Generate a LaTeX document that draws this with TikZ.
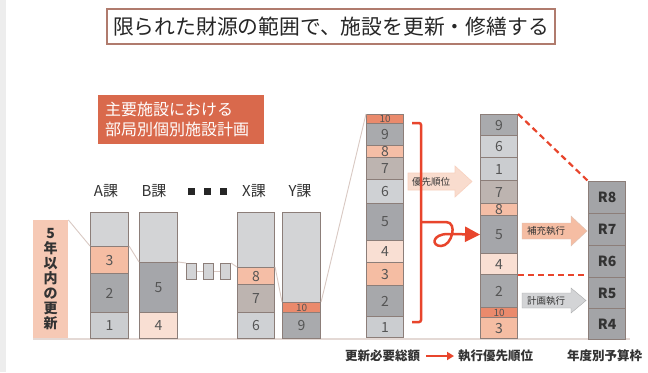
\documentclass[tikz,border=0pt]{standalone}
\usepackage{fontspec}
\setmainfont{Noto Sans CJK JP}
\usetikzlibrary{arrows.meta}
\definecolor{emptyc}{HTML}{D3D4D6}
\definecolor{cA}{HTML}{CBCDD0}
\definecolor{cB}{HTML}{A7A8AB}
\definecolor{cC}{HTML}{F5BDA3}
\definecolor{cD}{HTML}{F9DFD3}
\definecolor{cE}{HTML}{A5A6AA}
\definecolor{cF}{HTML}{CFD1D4}
\definecolor{cG}{HTML}{BDB4B0}
\definecolor{cH}{HTML}{F5BEA6}
\definecolor{cI}{HTML}{A9AAAD}
\definecolor{cJ}{HTML}{EA8A6C}
\definecolor{rcol}{HTML}{A3A4A7}
\definecolor{segborder}{HTML}{8C7E79}
\definecolor{thinc}{HTML}{D9C9C3}
\definecolor{redc}{HTML}{E8452C}
\definecolor{orng}{HTML}{D9694C}
\definecolor{lblpink}{HTML}{F6C9B5}
\definecolor{titleb}{HTML}{B07B6D}
\definecolor{numtxt}{HTML}{555555}
\definecolor{dtxt}{HTML}{333333}
\newcommand\segbox[7]{\node[segst,fill=#6,minimum width=#5bp,minimum height=#4bp,anchor=north west] (#1) at (#2,#3) {#7};}
\begin{document}
\begin{tikzpicture}[x=1bp,y=-1bp,
  segst/.style={draw=segborder,line width=1.1bp,inner sep=0pt,text=numtxt,font=\fontsize{14bp}{14bp}\selectfont},
  thinline/.style={draw=thinc,line width=0.9bp},
  reddash/.style={draw=redc,line width=2.2bp,dash pattern=on 6bp off 4bp},
  hdr/.style={font=\fontsize{15bp}{15bp}\selectfont,text=dtxt,inner sep=0pt},
  leg/.style={font=\bfseries\fontsize{12.5bp}{13bp}\selectfont,text=dtxt,inner sep=0pt,anchor=west},
  arrlbl/.style={font=\fontsize{9.5bp}{10bp}\selectfont,text=dtxt,inner sep=0pt}]
\useasboundingbox (0,0) rectangle (648,372);
\fill[white] (0,0) rectangle (648,372);
\fill[black!7] (0,0) rectangle (6,372);
% baseline
\draw[draw=thinc!70,line width=2bp] (33,339) -- (630,339);
% title
\node[draw=titleb,line width=2.5bp,minimum width=448bp,minimum height=35bp,inner sep=0pt,font=\fontsize{20.8bp}{22bp}\selectfont,text=black!85] (title) at (331,26.5) {限られた財源の範囲で、施設を更新・修繕する};
% orange box
\node[fill=orng,minimum width=166bp,minimum height=49bp,anchor=north west,inner sep=0pt] (obox) at (98,95) {};
\node[anchor=west,text=white,align=left,inner sep=0pt,font=\fontsize{16bp}{20bp}\selectfont] (otext) at (105,119.5) {主要施設における\\部局別個別施設計画};
% vertical label
\node[fill=lblpink,minimum width=35bp,minimum height=118bp,anchor=north west,inner sep=0pt,align=center,text=dtxt,font=\bfseries\fontsize{14bp}{15bp}\selectfont] (lbl) at (33,220) {5\\年\\以\\内\\の\\更\\新};
% headers
\node[hdr] (hA) at (106,191) {A課};
\node[hdr] (hB) at (154,191) {B課};
\node[hdr] (hX) at (254,191) {X課};
\node[hdr] (hY) at (300,191) {Y課};
\node[fill=black!85,minimum size=7bp,inner sep=0pt] (q1) at (191,191) {};
\node[fill=black!85,minimum size=7bp,inner sep=0pt] (q2) at (207,191) {};
\node[fill=black!85,minimum size=7bp,inner sep=0pt] (q3) at (223,191) {};
% A column
\segbox{aT}{90}{212}{34}{38}{emptyc}{}
\segbox{a3}{90}{246}{27}{38}{cC}{3}
\segbox{a2}{90}{273}{39}{38}{cB}{2}
\segbox{a1}{90}{312}{26}{38}{cA}{1}
% B column
\segbox{bT}{139}{212}{50}{38}{emptyc}{}
\segbox{b5}{139}{262}{50}{38}{cE}{5}
\segbox{b4}{139}{312}{26}{38}{cD}{4}
% small boxes
\segbox{d1}{186}{263}{16}{10}{emptyc}{}
\segbox{d2}{203}{263}{16}{10}{emptyc}{}
\segbox{d3}{220}{263}{16}{10}{emptyc}{}
% X column
\segbox{xT}{237}{212}{55}{37}{emptyc}{}
\segbox{x8}{237}{267}{17}{37}{cH}{8}
\segbox{x7}{237}{284}{28}{37}{cG}{7}
\segbox{x6}{237}{312}{26}{37}{cF}{6}
% Y column
\segbox{yT}{282}{212}{90}{38}{emptyc}{}
\segbox{y10}{282}{302}{10}{38}{cJ}{\fontsize{10bp}{10bp}\selectfont 10}
\segbox{y9}{282}{312}{26}{38}{cI}{9}
% total column
\segbox{t10}{366}{114}{9}{37}{cJ}{\fontsize{10bp}{10bp}\selectfont 10}
\segbox{t9}{366}{123}{22}{37}{cI}{9}
\segbox{t8}{366}{145}{12}{37}{cH}{8}
\segbox{t7}{366}{157}{22}{37}{cG}{7}
\segbox{t6}{366}{179}{24}{37}{cF}{6}
\segbox{t5}{366}{203}{37}{37}{cE}{5}
\segbox{t4}{366}{240}{22}{37}{cD}{4}
\segbox{t3}{366}{262}{23}{37}{cC}{3}
\segbox{t2}{366}{285}{31}{37}{cB}{2}
\segbox{t1}{366}{316}{21}{37}{cA}{1}
% sorted column
\segbox{s9}{480}{114}{21}{37}{cI}{9}
\segbox{s6}{480}{135}{22}{37}{cF}{6}
\segbox{s1}{480}{157}{23}{37}{cA}{1}
\segbox{s7}{480}{180}{23}{37}{cG}{7}
\segbox{s8}{480}{203}{12}{37}{cH}{8}
\segbox{s5}{480}{215}{38}{37}{cE}{5}
\segbox{s4}{480}{253}{21}{37}{cD}{4}
\segbox{s2}{480}{274}{33}{37}{cB}{2}
\segbox{s10}{480}{307}{10}{37}{cJ}{\fontsize{10bp}{10bp}\selectfont 10}
\segbox{s3}{480}{317}{21}{37}{cC}{3}
% R column
\segbox{r8}{588}{181}{32}{37}{rcol}{\bfseries\color{dtxt}R8}
\segbox{r7}{588}{213}{32}{37}{rcol}{\bfseries\color{dtxt}R7}
\segbox{r6}{588}{245}{32}{37}{rcol}{\bfseries\color{dtxt}R6}
\segbox{r5}{588}{277}{31}{37}{rcol}{\bfseries\color{dtxt}R5}
\segbox{r4}{588}{308}{31}{37}{rcol}{\bfseries\color{dtxt}R4}
% thin connectors
\draw[thinline] (lbl.north east) -- (a3.north west);
\draw[thinline] (a3.north east) -- (b5.north west);
\draw[thinline] (b5.north east) -- (d1.north west);
\draw[thinline] (d1.east) -- (d2.west);
\draw[thinline] (d2.east) -- (d3.west);
\draw[thinline] (d3.north east) -- (x8.north west);
\draw[thinline] (x8.north east) -- (y10.north west);
\draw[thinline] (y10.north east) -- (t10.north west);
% block arrow: priority
\filldraw[fill=cD!90!cC,draw=cC!70,line width=0.6bp] (408,173) -- (455,173) -- (455,166) -- (472,181.5) -- (455,197) -- (455,190) -- (408,190) -- cycle;
\node[arrlbl] (prio) at (431,181.5) {優先順位};
% red bracket
\coordinate (brt) at (412,123);
\coordinate (brb) at (412,322);
\draw[redc,line width=2.5bp,rounded corners=2bp] (brt) -- (421,123) -- (421,322) -- (brb);
\coordinate (brm) at (421,222);
\draw[redc,line width=2.5bp,-{Triangle[length=15bp,width=15bp]}] (brm) -- (446,222) .. controls (458,222) and (452,246) .. (441,246) .. controls (431,246) and (432,234) .. (448,234) -- (s5.west);
% dashed red
\draw[reddash] (s9.north east) -- (r8.north west);
\draw[reddash] (s4.south east) -- (s4.south east -| r6.west);
% block arrows right
\filldraw[fill=cC,draw=cC!80!black!60,line width=0.4bp] (522,223) -- (571,223) -- (571,216) -- (587,231) -- (571,246) -- (571,239) -- (522,239) -- cycle;
\node[arrlbl] (hoju) at (546,231) {補充執行};
\filldraw[fill=emptyc,draw=emptyc!80!black,line width=0.4bp] (522,293) -- (571,293) -- (571,288) -- (586,300.5) -- (571,313) -- (571,308) -- (522,308) -- cycle;
\node[arrlbl] (keikaku) at (546,300.5) {計画執行};
% legend
\node[leg] (l1) at (345,356) {更新必要総額};
\node[leg] (l2) at (458,356) {執行優先順位};
\node[leg] (l3) at (567,356) {年度別予算枠};
\coordinate (la) at ([xshift=6bp]l1.east);
\coordinate (lb) at ([xshift=-4bp]l2.west);
\draw[redc,line width=2.5bp,-{Triangle[length=7bp,width=8bp]}] (la) -- (lb);
\end{tikzpicture}
\end{document}
